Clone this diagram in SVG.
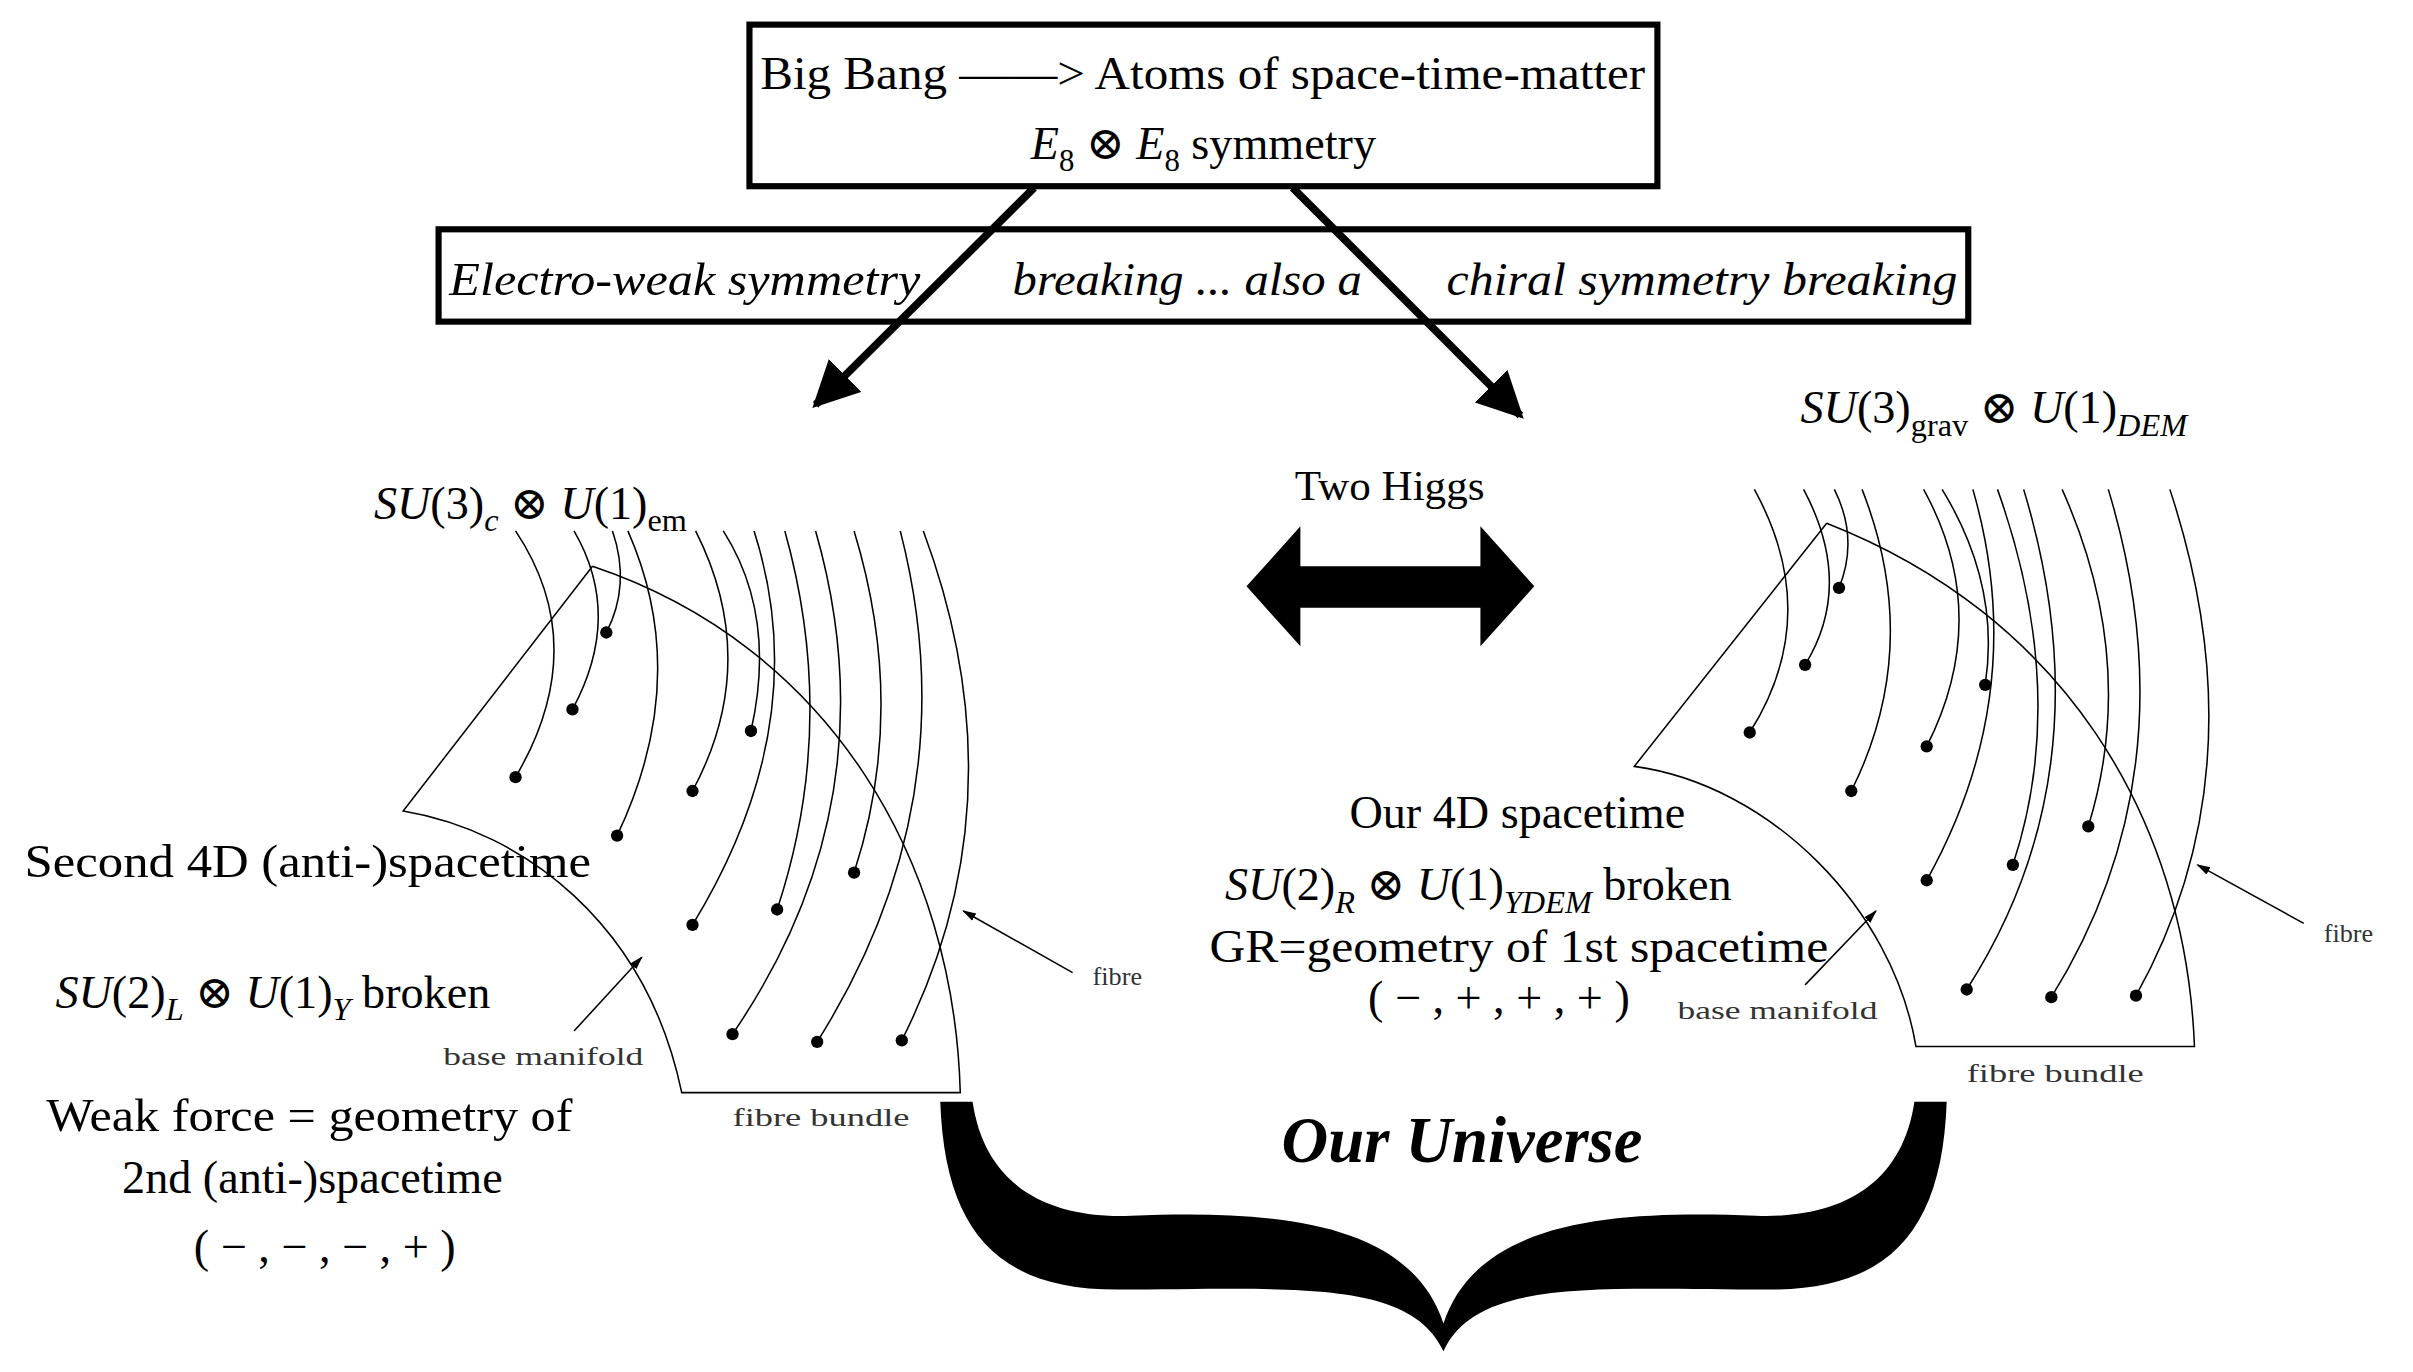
<svg xmlns="http://www.w3.org/2000/svg" width="2413" height="1372" viewBox="0 0 2413 1372">
<style>
text{font-family:"Liberation Serif","DejaVu Serif",serif;fill:#000}
.t{font-size:30px}
.i{font-style:italic}
.s{font-size:17px;fill:#333}
.f{fill:none;stroke:#000;stroke-width:1}
.box{fill:none;stroke:#000;stroke-width:4}
</style>
<defs>
<marker id="ah" viewBox="0 0 10 10" refX="9" refY="5" markerWidth="6" markerHeight="6" orient="auto" markerUnits="strokeWidth"><path d="M0,0 L10,5 L0,10 Z"/></marker>
<marker id="sh" viewBox="0 0 10 10" refX="9" refY="5" markerWidth="9" markerHeight="9" orient="auto" markerUnits="strokeWidth"><path d="M0,2 L10,5 L0,8 Z"/></marker>
</defs>
<rect width="2413" height="1372" fill="#fff"/>
<g transform="scale(1.5389)">
<g id="bigbang">
<rect class="box" x="487" y="16" width="590" height="105"/>
<text class="t" x="494" y="58" textLength="575" lengthAdjust="spacingAndGlyphs">Big Bang ——&gt; Atoms of space-time-matter</text>
<text class="t" x="782" y="103" text-anchor="middle"><tspan class="i">E</tspan><tspan dy="8" font-size="20">8</tspan><tspan dy="-8"> ⊗ </tspan><tspan class="i">E</tspan><tspan dy="8" font-size="20">8</tspan><tspan dy="-8"> symmetry</tspan></text>
</g>
<g id="breaking">
<rect class="box" x="285" y="149" width="994" height="60"/>
<text class="t i" x="292" y="192" textLength="306" lengthAdjust="spacingAndGlyphs">Electro-weak symmetry</text>
<text class="t i" x="658" y="192" textLength="227" lengthAdjust="spacingAndGlyphs">breaking ... also a</text>
<text class="t i" x="940" y="192" textLength="332" lengthAdjust="spacingAndGlyphs">chiral symmetry breaking</text>
</g>
<g id="connectors" stroke="#000" fill="none">
<line x1="672" y1="122" x2="530" y2="263" stroke-width="5" marker-end="url(#ah)"/>
<line x1="840" y1="122" x2="988" y2="270" stroke-width="5" marker-end="url(#ah)"/>
<path d="M810,381 L845,342 L845,368 L962,368 L962,342 L997,381 L962,420 L962,395 L845,395 L845,420 Z" fill="#000" stroke="none"/>
<line x1="697" y1="632" x2="626" y2="592" stroke-width="1" marker-end="url(#sh)"/>
<line x1="373" y1="670" x2="417" y2="622" stroke-width="1" marker-end="url(#sh)"/>
<line x1="1497" y1="600" x2="1428" y2="562" stroke-width="1" marker-end="url(#sh)"/>
<line x1="1173" y1="640" x2="1219" y2="592" stroke-width="1" marker-end="url(#sh)"/>
</g>
<g id="higgs"><text x="903" y="325" font-size="28" text-anchor="middle">Two Higgs</text></g>
<g id="leftbundle">
<path class="f" d="M385,368 L262,527 C340,540 420,600 443,710 L624,710 C620,560 540,420 385,368"/>
<g class="f">
<path d="M335,345 Q385,420 335,505"/>
<path d="M373,345 Q405,400 372,461"/>
<path d="M398,345 Q410,380 394,411"/>
<path d="M408,345 Q450,440 401,543"/>
<path d="M452,345 Q495,430 450,514"/>
<path d="M470,345 Q505,400 488,475"/>
<path d="M490,345 Q530,470 450,601"/>
<path d="M510,345 Q545,470 505,591"/>
<path d="M530,345 Q580,520 476,672"/>
<path d="M555,345 Q590,460 555,567"/>
<path d="M585,345 Q630,520 531,677"/>
<path d="M600,345 Q665,520 586,676"/>
</g>
<g>
<circle cx="394" cy="411" r="4"/><circle cx="372" cy="461" r="4"/><circle cx="335" cy="505" r="4"/>
<circle cx="488" cy="475" r="4"/><circle cx="450" cy="514" r="4"/><circle cx="401" cy="543" r="4"/>
<circle cx="555" cy="567" r="4"/><circle cx="505" cy="591" r="4"/><circle cx="450" cy="601" r="4"/>
<circle cx="476" cy="672" r="4"/><circle cx="531" cy="677" r="4"/><circle cx="586" cy="676" r="4"/>
</g>
<text class="s" x="710" y="640">fibre</text>
<text class="s" x="288" y="692" textLength="130" lengthAdjust="spacingAndGlyphs">base manifold</text>
<text class="s" x="476" y="732" textLength="115" lengthAdjust="spacingAndGlyphs">fibre bundle</text>
</g>
<g id="rightbundle">
<path class="f" d="M1187,340 L1062,498 C1150,510 1230,590 1245,680 L1426,680 C1420,530 1340,400 1187,340"/>
<g class="f">
<path d="M1140,318 Q1185,400 1137,476"/>
<path d="M1172,318 Q1205,380 1173,432"/>
<path d="M1192,318 Q1208,350 1195,382"/>
<path d="M1210,318 Q1250,420 1203,514"/>
<path d="M1250,318 Q1295,400 1252,485"/>
<path d="M1262,318 Q1300,380 1290,445"/>
<path d="M1282,318 Q1320,450 1252,572"/>
<path d="M1298,318 Q1345,450 1308,562"/>
<path d="M1315,318 Q1370,500 1278,643"/>
<path d="M1340,318 Q1390,430 1357,537"/>
<path d="M1370,318 Q1425,500 1333,648"/>
<path d="M1410,318 Q1470,500 1388,647"/>
</g>
<g>
<circle cx="1195" cy="382" r="4"/><circle cx="1173" cy="432" r="4"/><circle cx="1137" cy="476" r="4"/>
<circle cx="1290" cy="445" r="4"/><circle cx="1252" cy="485" r="4"/><circle cx="1203" cy="514" r="4"/>
<circle cx="1357" cy="537" r="4"/><circle cx="1308" cy="562" r="4"/><circle cx="1252" cy="572" r="4"/>
<circle cx="1278" cy="643" r="4"/><circle cx="1333" cy="648" r="4"/><circle cx="1388" cy="647" r="4"/>
</g>
<text class="s" x="1510" y="612">fibre</text>
<text class="s" x="1090" y="662" textLength="130" lengthAdjust="spacingAndGlyphs">base manifold</text>
<text class="s" x="1278" y="703" textLength="115" lengthAdjust="spacingAndGlyphs">fibre bundle</text>
</g>
<g id="su3grav"><text class="t" x="1170" y="275"><tspan class="i">SU</tspan>(3)<tspan dy="8" font-size="21">grav</tspan><tspan dy="-8"> ⊗ </tspan><tspan class="i">U</tspan>(1)<tspan dy="8" font-size="21" class="i">DEM</tspan></text></g>
<g id="su3c"><text class="t" x="243" y="337"><tspan class="i">SU</tspan>(3)<tspan dy="8" font-size="21" class="i">c</tspan><tspan dy="-8"> ⊗ </tspan><tspan class="i">U</tspan>(1)<tspan dy="8" font-size="21">em</tspan></text></g>
<g id="lefttext">
<text class="t" x="16" y="570" textLength="368" lengthAdjust="spacingAndGlyphs">Second 4D (anti-)spacetime</text>
<text class="t" x="36" y="655"><tspan class="i">SU</tspan>(2)<tspan dy="8" font-size="21" class="i">L</tspan><tspan dy="-8"> ⊗ </tspan><tspan class="i">U</tspan>(1)<tspan dy="8" font-size="21" class="i">Y</tspan><tspan dy="-8">  broken</tspan></text>
<text class="t" x="30" y="735" textLength="342" lengthAdjust="spacingAndGlyphs">Weak force = geometry of</text>
<text class="t" x="203" y="775" text-anchor="middle">2nd (anti-)spacetime</text>
<text class="t" x="211" y="820" text-anchor="middle">( − , − , − , + )</text>
</g>
<g id="righttext">
<text class="t" x="986" y="538" text-anchor="middle">Our 4D spacetime</text>
<text class="t" x="796" y="585"><tspan class="i">SU</tspan>(2)<tspan dy="8" font-size="21" class="i">R</tspan><tspan dy="-8"> ⊗ </tspan><tspan class="i">U</tspan>(1)<tspan dy="8" font-size="21" class="i">YDEM</tspan><tspan dy="-8"> broken</tspan></text>
<text class="t" x="786" y="625" textLength="402" lengthAdjust="spacingAndGlyphs">GR=geometry of 1st spacetime</text>
<text class="t" x="974" y="658" text-anchor="middle">( − , + , + , + )</text>
</g>
<g id="universe">
<text x="950" y="755" font-size="42" font-weight="bold" font-style="italic" text-anchor="middle">Our Universe</text>
<path d="M611,716 L632,716 C640,770 680,792 735,790 C820,787 915,790 938,860 C961,790 1056,787 1141,790 C1196,792 1236,770 1244,716 L1265,716 C1262,800 1228,838 1150,838 C1040,838 960,830 938,878 C916,830 836,838 726,838 C648,838 614,800 611,716 Z" fill="#000"/>
</g>
</g>
</svg>
